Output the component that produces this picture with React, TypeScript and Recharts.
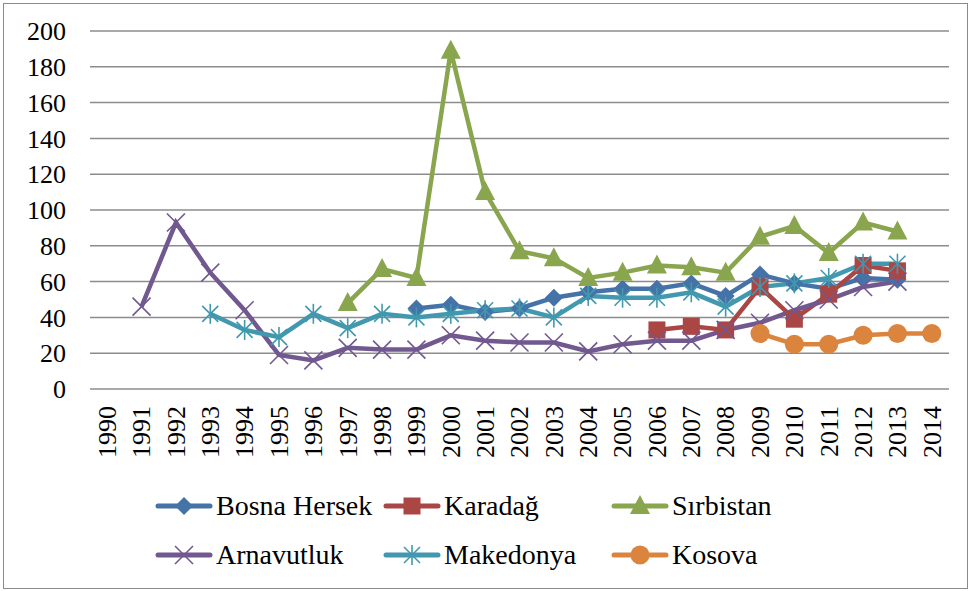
import React from "react"
import { CartesianGrid, Line, LineChart, XAxis, YAxis } from "recharts"

const years = [
  "1990", "1991", "1992", "1993", "1994", "1995", "1996", "1997", "1998", "1999", "2000", "2001", "2002",
  "2003", "2004", "2005", "2006", "2007", "2008", "2009", "2010", "2011", "2012", "2013", "2014",
]
const yTicks = [0, 20, 40, 60, 80, 100, 120, 140, 160, 180, 200]

const _ = null
const bosnaHersek = [_, _, _, _, _, _, _, _, _, 45, 47, 43, 45, 51, 54, 56, 56, 59, 52, 64, 59, 56, 62, 61, _]
const karadag = [_, _, _, _, _, _, _, _, _, _, _, _, _, _, _, _, 33, 35, 33, 57, 39, 53, 69, 66, _]
const sirbistan = [_, _, _, _, _, _, _, 48, 67, 62, 189, 110, 77, 73, 62, 65, 69, 68, 65, 85, 91, 76, 93, 88, _]
const arnavutluk = [_, 46, 93, 65, 44, 19, 16, 23, 22, 22, 30, 27, 26, 26, 21, 25, 27, 27, 33, 37, 44, 50, 57, 60, _]
const makedonya = [_, _, _, 42, 33, 29, 42, 34, 42, 40, 42, 44, 45, 40, 52, 51, 51, 54, 46, 57, 59, 62, 70, 70, _]
const kosova = [_, _, _, _, _, _, _, _, _, _, _, _, _, _, _, _, _, _, _, 31, 25, 25, 30, 31, 31]

const data = years.map((year, i) => ({
  year,
  bosna: bosnaHersek[i],
  karadag: karadag[i],
  sirbistan: sirbistan[i],
  arnavutluk: arnavutluk[i],
  makedonya: makedonya[i],
  kosova: kosova[i],
}))

type Shape = "diamond" | "square" | "triangle" | "x" | "star" | "circle"

const series: { key: string; name: string; color: string; shape: Shape }[] = [
  { key: "bosna", name: "Bosna Hersek", color: "#4572A7", shape: "diamond" },
  { key: "karadag", name: "Karadağ", color: "#AA4643", shape: "square" },
  { key: "sirbistan", name: "Sırbistan", color: "#89A54E", shape: "triangle" },
  { key: "arnavutluk", name: "Arnavutluk", color: "#71588F", shape: "x" },
  { key: "makedonya", name: "Makedonya", color: "#4198AF", shape: "star" },
  { key: "kosova", name: "Kosova", color: "#DB843D", shape: "circle" },
]

const FONT = "Liberation Serif, Times New Roman, DejaVu Serif, serif"

function Marker({ shape, cx, cy, color }: { shape: Shape; cx: number; cy: number; color: string }) {
  switch (shape) {
    case "diamond":
      return <polygon points={`${cx},${cy - 9} ${cx + 9},${cy} ${cx},${cy + 9} ${cx - 9},${cy}`} fill={color} />
    case "square":
      return <rect x={cx - 8.5} y={cy - 8.5} width={17} height={17} fill={color} />
    case "triangle":
      return <polygon points={`${cx},${cy - 11} ${cx + 10},${cy + 8} ${cx - 10},${cy + 8}`} fill={color} />
    case "x":
      return (
        <g stroke={color} strokeWidth={1.6}>
          <line x1={cx - 9} y1={cy - 9} x2={cx + 9} y2={cy + 9} />
          <line x1={cx - 9} y1={cy + 9} x2={cx + 9} y2={cy - 9} />
        </g>
      )
    case "star":
      return (
        <g stroke={color} strokeWidth={1.6}>
          <line x1={cx - 8} y1={cy - 8} x2={cx + 8} y2={cy + 8} />
          <line x1={cx - 8} y1={cy + 8} x2={cx + 8} y2={cy - 8} />
          <line x1={cx} y1={cy - 10} x2={cx} y2={cy + 10} />
        </g>
      )
    default:
      return <circle cx={cx} cy={cy} r={9.5} fill={color} />
  }
}

function XTick({ x, y, payload }: any) {
  const ty = y + 9
  return (
    <text
      x={x}
      y={ty}
      transform={`rotate(-90 ${x} ${ty})`}
      textAnchor="end"
      dy="0.34em"
      fill="#000"
      fontSize={26}
      style={{ fontFamily: FONT }}
    >
      {payload.value}
    </text>
  )
}

// legend laid out by hand: 3 columns x 2 rows as in the original
const legendCols = [155, 383, 611]
const legendRows = [506, 555]

function LegendItem({ s, left, top }: { s: (typeof series)[number]; left: number; top: number }) {
  return (
    <div style={{ position: "absolute", left, top: top - 16, height: 32, display: "flex", alignItems: "center" }}>
      <svg width={58} height={30}>
        <line x1={3} y1={15} x2={55} y2={15} stroke={s.color} strokeWidth={5} strokeLinecap="round" />
        <Marker shape={s.shape} cx={29} cy={15} color={s.color} />
      </svg>
      <span style={{ fontFamily: FONT, fontSize: 28, color: "#000", marginLeft: 3, whiteSpace: "nowrap" }}>
        {s.name}
      </span>
    </div>
  )
}

export default function App() {
  return (
    <div
      style={{
        position: "fixed",
        left: 0,
        top: 0,
        width: 972,
        height: 591,
        background: "#fff",
        fontFamily: FONT,
      }}
    >
      <div
        style={{
          position: "absolute",
          left: 3,
          top: 3,
          width: 963,
          height: 584,
          border: "1.5px solid #8a8a8a",
        }}
      />
      <LineChart
        width={972}
        height={591}
        data={data}
        margin={{ top: 31, right: 23, bottom: 102, left: 0 }}
        style={{ position: "absolute", left: 0, top: 0 }}
      >
        <CartesianGrid vertical={false} stroke="#8c8c8c" strokeWidth={1.5} />
        <XAxis
          dataKey="year"
          interval={0}
          height={100}
          padding={{ left: 17.2, right: 17.2 }}
          axisLine={false}
          tickLine={false}
          tick={<XTick />}
        />
        <YAxis
          domain={[0, 200]}
          ticks={yTicks}
          interval={0}
          width={90}
          axisLine={false}
          tickLine={false}
          tickSize={0}
          tickMargin={24}
          tick={{ fill: "#000", fontSize: 26, style: { fontFamily: FONT } }}
        />
        {series.map((s) => (
          <Line
            key={s.key}
            dataKey={s.key}
            name={s.name}
            stroke={s.color}
            strokeWidth={4.5}
            isAnimationActive={false}
            dot={(p: any) =>
              p.cx == null || p.cy == null || p.value == null ? (
                <g key={p.key} />
              ) : (
                <g key={p.key}>
                  <Marker shape={s.shape} cx={p.cx} cy={p.cy} color={s.color} />
                </g>
              )
            }
            activeDot={false}
          />
        ))}
      </LineChart>
      {series.map((s, i) => (
        <LegendItem key={s.key} s={s} left={legendCols[i % 3]} top={legendRows[Math.floor(i / 3)]} />
      ))}
    </div>
  )
}
